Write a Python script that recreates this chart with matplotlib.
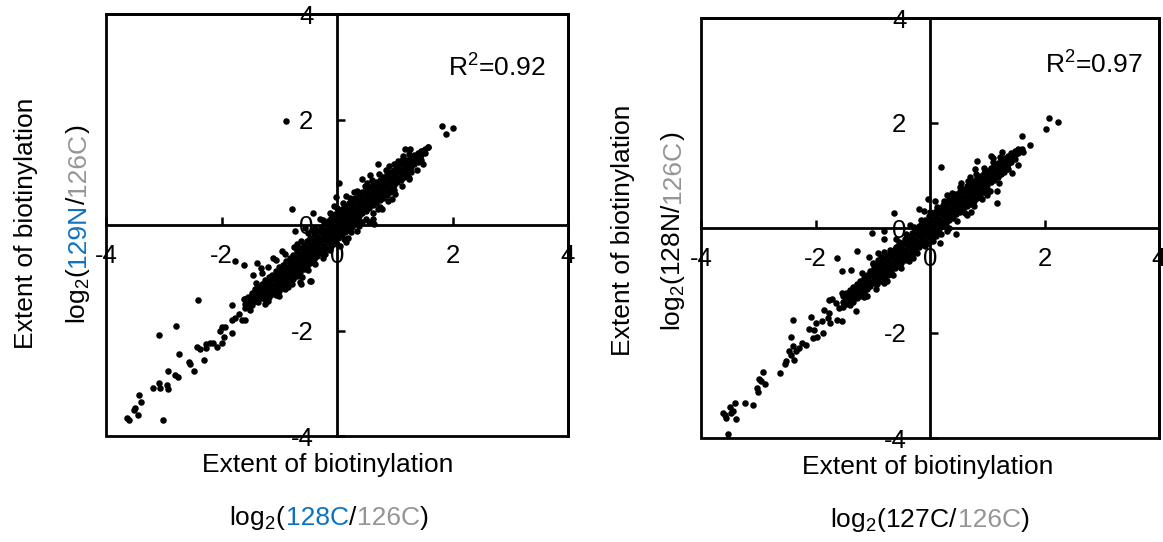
import numpy as np
import matplotlib
matplotlib.use('Agg')
import matplotlib.pyplot as plt
from matplotlib.patches import Rectangle

plt.rcParams['font.family'] = 'Liberation Sans'
plt.rcParams['mathtext.fontset'] = 'custom'
plt.rcParams['mathtext.rm'] = 'Liberation Sans'
plt.rcParams['mathtext.it'] = 'Liberation Sans:italic'
plt.rcParams['axes.unicode_minus'] = False

BLUE = '#0f72c1'
GRAY = '#959595'

ticks = [-4, -2, 0, 2, 4]

# left panel: 129N vs 128C  (dense band as columns x -> list of y)
left_core = [
    (-1.60, [-1.50, -1.41, -1.57]), (-1.54, [-1.36, -1.46, -1.54]),
    (-1.48, [-1.29, -1.39, -1.51, -1.34]), (-1.42, [-1.22, -1.32, -1.44, -1.27]),
    (-1.36, [-1.17, -1.27, -1.37, -1.46]), (-1.30, [-1.11, -1.20, -1.29, -1.39, -1.24]),
    (-1.24, [-1.05, -1.14, -1.24, -1.33, -1.41]), (-1.18, [-0.99, -1.09, -1.18, -1.27, -1.36]),
    (-1.12, [-0.94, -1.03, -1.13, -1.22, -1.30]), (-1.06, [-0.87, -0.97, -1.06, -1.15, -1.24]),
    (-1.00, [-0.80, -0.90, -0.99, -1.08, -1.17, -1.25]), (-0.94, [-0.75, -0.85, -0.94, -1.03, -1.12, -1.20]),
    (-0.88, [-0.69, -0.79, -0.88, -0.97, -1.06, -1.14]), (-0.82, [-0.62, -0.72, -0.82, -0.91, -1.00, -1.08]),
    (-0.76, [-0.57, -0.67, -0.76, -0.85, -0.94, -1.02]), (-0.70, [-0.50, -0.60, -0.69, -0.78, -0.87, -0.96]),
    (-0.64, [-0.44, -0.55, -0.64, -0.73, -0.82, -0.90]), (-0.58, [-0.38, -0.48, -0.57, -0.66, -0.75, -0.84]),
    (-0.52, [-0.31, -0.42, -0.51, -0.60, -0.69, -0.78]), (-0.46, [-0.25, -0.36, -0.45, -0.54, -0.63, -0.72]),
    (-0.40, [-0.18, -0.28, -0.38, -0.47, -0.56, -0.65]), (-0.34, [-0.12, -0.22, -0.32, -0.41, -0.50, -0.59]),
    (-0.28, [-0.05, -0.16, -0.26, -0.35, -0.45, -0.54]), (-0.22, [0.02, -0.09, -0.19, -0.29, -0.39, -0.48]),
    (-0.16, [0.08, -0.03, -0.13, -0.23, -0.33, -0.43]), (-0.10, [0.14, 0.03, -0.07, -0.17, -0.27, -0.37]),
    (-0.04, [0.20, 0.09, -0.01, -0.11, -0.21, -0.31]), (0.02, [0.26, 0.15, 0.05, -0.05, -0.15, -0.25]),
    (0.08, [0.31, 0.20, 0.10, 0.00, -0.10, -0.19]), (0.14, [0.36, 0.25, 0.15, 0.05, -0.05, -0.14]),
    (0.20, [0.41, 0.30, 0.20, 0.10, 0.00, -0.09]), (0.26, [0.46, 0.36, 0.26, 0.16, 0.06, -0.03]),
    (0.32, [0.51, 0.41, 0.31, 0.21, 0.11, 0.02]), (0.38, [0.56, 0.46, 0.36, 0.26, 0.17, 0.08]),
    (0.44, [0.62, 0.51, 0.41, 0.31, 0.22]), (0.50, [0.67, 0.56, 0.46, 0.36, 0.27]),
    (0.56, [0.72, 0.61, 0.51, 0.41, 0.32]), (0.62, [0.76, 0.66, 0.56, 0.46, 0.37]),
    (0.68, [0.81, 0.70, 0.61, 0.51, 0.42]), (0.74, [0.86, 0.75, 0.66, 0.56, 0.47]),
    (0.80, [0.91, 0.80, 0.71, 0.61, 0.52]), (0.86, [0.96, 0.85, 0.76, 0.66, 0.57]),
    (0.92, [1.00, 0.90, 0.81, 0.71, 0.62]), (0.98, [1.05, 0.95, 0.86, 0.76, 0.67]),
    (1.04, [1.10, 1.00, 0.90, 0.81]), (1.10, [1.15, 1.04, 0.95, 0.86]),
    (1.16, [1.19, 1.09, 1.00, 0.91]), (1.22, [1.24, 1.14, 1.05, 0.96]),
    (1.28, [1.28, 1.19, 1.10, 1.01]), (1.34, [1.33, 1.24, 1.15]),
    (1.40, [1.37, 1.28, 1.20]), (1.46, [1.41, 1.32, 1.24]),
    (1.52, [1.45, 1.36]), (1.58, [1.48]),
]
left_scatter = [
    (-1.77, -0.68), (-1.61, -0.75), (-1.39, -0.72), (-1.32, -0.81), (-1.30, -0.91),
    (-1.46, -0.94), (-2.40, -1.42), (-2.78, -1.91), (-3.09, -2.08), (-2.74, -2.45),
    (-2.48, -2.77), (-2.31, -2.55), (-2.92, -2.77), (-2.81, -2.85), (-2.76, -2.89),
    (-3.09, -3.00), (-3.18, -3.09), (-3.07, -3.09), (-2.95, -3.04), (-2.92, -3.11),
    (-3.42, -3.23), (-3.40, -3.36), (-3.52, -3.51), (-3.49, -3.47), (-3.45, -3.60),
    (-3.63, -3.66), (-3.61, -3.70), (-3.02, -3.70), (-2.57, -2.60), (-2.55, -2.64),
    (-2.43, -2.32), (-2.38, -2.36), (-2.26, -2.34), (-2.27, -2.25), (-2.20, -2.23),
    (-2.14, -2.23), (-2.08, -2.32), (-2.00, -2.23), (-1.96, -2.13), (-2.00, -1.94),
    (-1.94, -1.94), (-2.03, -2.00), (-1.81, -2.04), (-1.82, -1.81), (-1.77, -1.77),
    (-1.70, -1.68), (-1.65, -1.81), (-1.60, -1.81), (-1.81, -1.51), (-1.61, -1.40),
    (-1.56, -1.38), (-1.51, -1.43), (-1.51, -1.62), (-0.64, -1.09), (-0.45, -1.06),
    (-0.63, -1.11), (-0.47, -1.06), (-0.89, 1.98), (1.82, 1.87), (1.89, 1.72),
    (2.01, 1.83), (1.18, 1.45), (1.27, 1.45), (1.48, 1.40), (1.58, 1.47),
    (1.49, 1.15), (0.71, 1.15), (0.43, 0.87), (0.57, 0.94), (0.03, 0.79),
    (-0.02, 0.53), (-0.78, 0.30), (-0.42, 0.23), (0.63, 0.11), (0.64, 0.02),
    (0.71, 0.30), (0.78, 0.30), (0.19, -0.25), (-0.73, -0.12), (0.30, 0.62),
    (0.52, 0.80), (0.90, 1.12), (1.15, 1.30), (-0.30, 0.12), (-0.55, -0.05),
    (-0.95, -0.50), (-1.10, -0.62), (0.35, -0.12), (0.55, 0.05), (0.95, 0.50),
    (1.25, 0.88), (-0.20, -0.55), (-0.60, -0.98), (-1.00, -1.35), (0.05, -0.40),
    (-1.25, -1.50), (-1.40, -1.10), (1.05, 1.22), (1.38, 1.05), (0.15, 0.55),
]
# ragged edges of the dense band
left_edge = [
    (-1.20, -0.80), (-1.05, -0.66), (-0.90, -0.55), (-0.75, -0.42), (-0.62, -0.30),
    (-0.50, -0.15), (-0.38, -0.05), (-0.25, 0.10), (-0.12, 0.22), (0.00, 0.32),
    (0.10, 0.42), (0.22, 0.52), (0.35, 0.64), (0.48, 0.74), (0.60, 0.86),
    (0.72, 0.96), (0.85, 1.05), (0.98, 1.16), (1.12, 1.24), (1.25, 1.35),
    (-1.20, -1.45), (-1.05, -1.32), (-0.90, -1.22), (-0.78, -1.12), (-0.50, -0.86),
    (-0.38, -0.74), (-0.25, -0.62), (-0.12, -0.48), (0.00, -0.36), (0.12, -0.26),
    (0.25, -0.14), (0.38, -0.02), (0.50, 0.12), (0.62, 0.22), (0.75, 0.35),
    (0.88, 0.46), (1.00, 0.58), (1.12, 0.74), (1.25, 0.90), (-0.70, -0.36),
    (-0.44, -0.10), (-0.05, 0.36), (0.16, -0.32), (0.44, 0.05), (-0.85, -1.18),
]

# right panel: 128N vs 127C
right_core = [
    (-1.52, [-1.30, -1.40, -1.50]), (-1.46, [-1.24, -1.34, -1.44]),
    (-1.40, [-1.18, -1.28, -1.38, -1.46]), (-1.34, [-1.12, -1.22, -1.32, -1.40]),
    (-1.28, [-1.06, -1.16, -1.26, -1.34]), (-1.22, [-1.00, -1.10, -1.20, -1.29]),
    (-1.16, [-0.95, -1.04, -1.14, -1.23]), (-1.10, [-0.89, -0.98, -1.08, -1.17]),
    (-1.04, [-0.82, -0.92, -1.02, -1.11, -0.87]), (-0.98, [-0.76, -0.86, -0.96, -1.05]),
    (-0.92, [-0.70, -0.80, -0.90, -0.99, -1.06]), (-0.86, [-0.64, -0.74, -0.84, -0.93, -1.00]),
    (-0.80, [-0.58, -0.68, -0.78, -0.87, -0.94]), (-0.74, [-0.52, -0.62, -0.72, -0.81, -0.89]),
    (-0.68, [-0.46, -0.56, -0.66, -0.75, -0.83]), (-0.62, [-0.40, -0.50, -0.60, -0.69, -0.77]),
    (-0.56, [-0.34, -0.44, -0.54, -0.63, -0.72]), (-0.50, [-0.28, -0.38, -0.48, -0.57, -0.66]),
    (-0.44, [-0.21, -0.31, -0.41, -0.51, -0.60]), (-0.38, [-0.15, -0.25, -0.35, -0.45, -0.54]),
    (-0.32, [-0.09, -0.19, -0.29, -0.39, -0.48]), (-0.26, [-0.02, -0.12, -0.22, -0.32, -0.42]),
    (-0.20, [0.04, -0.06, -0.16, -0.26, -0.36]), (-0.14, [0.10, 0.00, -0.10, -0.20, -0.30]),
    (-0.08, [0.16, 0.06, -0.04, -0.14, -0.24]), (-0.02, [0.22, 0.12, 0.02, -0.08, -0.18, -0.28]),
    (0.04, [0.28, 0.18, 0.08, -0.02, -0.12, -0.20]), (0.10, [0.33, 0.23, 0.13, 0.03, -0.07, -0.15]),
    (0.16, [0.38, 0.28, 0.18, 0.08, -0.02]), (0.22, [0.44, 0.34, 0.24, 0.14, 0.04]),
    (0.28, [0.49, 0.39, 0.29, 0.19, 0.09]), (0.34, [0.55, 0.45, 0.35, 0.25, 0.15]),
    (0.40, [0.60, 0.50, 0.40, 0.30, 0.20]), (0.46, [0.65, 0.55, 0.45, 0.35, 0.26]),
    (0.52, [0.70, 0.60, 0.50, 0.40, 0.31]), (0.58, [0.75, 0.65, 0.55, 0.45, 0.36]),
    (0.64, [0.80, 0.70, 0.60, 0.50, 0.41]), (0.70, [0.85, 0.75, 0.65, 0.55, 0.46]),
    (0.76, [0.90, 0.80, 0.70, 0.60, 0.52]), (0.82, [0.95, 0.85, 0.75, 0.66, 0.58]),
    (0.88, [1.00, 0.90, 0.80, 0.71, 0.63]), (0.94, [1.04, 0.95, 0.86, 0.76, 0.68]),
    (1.00, [1.09, 1.00, 0.91, 0.82, 0.74]), (1.06, [1.14, 1.05, 0.96, 0.87]),
    (1.12, [1.19, 1.10, 1.01, 0.92]), (1.18, [1.24, 1.15, 1.06, 0.97]),
    (1.24, [1.29, 1.20, 1.11, 1.02]), (1.30, [1.34, 1.25, 1.16, 1.07]),
    (1.36, [1.38, 1.30, 1.21, 1.12]), (1.42, [1.43, 1.35, 1.26]),
    (1.48, [1.47, 1.39, 1.31]), (1.54, [1.51, 1.43]), (1.60, [1.50]),
]
right_scatter = [
    (-1.02, -0.09), (-0.80, -0.06), (-0.80, -0.20), (-1.62, -0.58), (-1.28, -0.43),
    (-1.53, -0.81), (-1.38, -0.80), (-1.07, -0.55), (-0.99, -0.67), (-0.90, -0.48),
    (-0.81, -0.45), (-1.30, -1.59), (-1.53, -1.23), (-1.42, -1.24), (-1.76, -1.37),
    (-1.72, -1.36), (-1.65, -1.43), (-1.59, -1.53), (-1.62, -1.75), (-1.53, -1.78),
    (-1.85, -1.56), (-1.76, -1.62), (-1.79, -1.72), (-1.88, -1.78), (-1.74, -1.81),
    (-2.07, -1.70), (-2.00, -1.81), (-2.12, -1.93), (-2.02, -1.94), (-1.87, -2.00),
    (-1.97, -2.08), (-2.05, -2.10), (-2.40, -1.75), (-2.43, -2.08), (-2.40, -2.24),
    (-2.47, -2.35), (-2.43, -2.41), (-2.34, -2.35), (-2.28, -2.29), (-2.23, -2.19),
    (-2.17, -2.22), (-2.37, -2.52), (-2.52, -2.54), (-2.54, -2.59), (-2.62, -2.76),
    (-2.91, -2.75), (-2.99, -2.88), (-2.95, -2.92), (-2.89, -2.98), (-3.03, -3.05),
    (-3.00, -3.13), (-3.24, -3.33), (-3.10, -3.37), (-3.41, -3.33), (-3.49, -3.40),
    (-3.44, -3.49), (-3.61, -3.52), (-3.56, -3.62), (-3.38, -3.64), (-3.47, -3.52),
    (-3.58, -3.56), (-3.52, -3.92), (-1.25, -1.12), (2.07, 2.09), (2.02, 1.88),
    (2.23, 2.02), (1.61, 1.75), (1.75, 1.58), (1.63, 1.45), (1.53, 1.20),
    (1.44, 1.05), (1.07, 1.37), (1.10, 1.34), (0.82, 1.28), (0.79, 1.12),
    (0.19, 1.17), (1.17, 0.71), (1.17, 0.48), (0.72, 0.31), (-0.04, 0.55),
    (0.09, 0.51), (-0.19, 0.37), (-0.63, 0.28), (0.46, -0.12), (0.30, 0.62),
    (0.55, 0.85), (1.25, 1.45), (-0.35, 0.05), (-0.60, -0.20), (0.30, -0.05),
    (0.65, 0.25), (1.00, 0.62), (-0.30, -0.58), (-0.75, -1.00), (-1.15, -1.32),
]
right_edge = [
    (-1.18, -0.85), (-1.00, -0.68), (-0.85, -0.55), (-0.70, -0.42), (-0.55, -0.26),
    (-0.42, -0.12), (-0.28, 0.02), (-0.15, 0.15), (0.00, 0.30), (0.12, 0.40),
    (0.25, 0.52), (0.38, 0.66), (0.52, 0.78), (0.66, 0.90), (0.80, 1.02),
    (0.95, 1.14), (1.10, 1.26), (1.22, 1.36), (-1.10, -1.30), (-0.95, -1.16),
    (-0.80, -1.04), (-0.65, -0.90), (-0.50, -0.76), (-0.36, -0.62), (-0.22, -0.48),
    (-0.08, -0.34), (0.06, -0.24), (0.20, -0.12), (0.34, 0.00), (0.48, 0.14),
    (0.62, 0.28), (0.76, 0.42), (0.90, 0.56), (1.05, 0.70), (1.20, 0.86),
    (-0.10, 0.32), (0.18, -0.28), (-0.60, -0.36), (0.70, 0.98), (-0.90, -0.60),
]


def expand(core, *extra):
    xs = [x for x, ys in core for _ in ys]
    ys = [y for _, yv in core for y in yv]
    for group in extra:
        xs += [p[0] for p in group]
        ys += [p[1] for p in group]
    return np.array(xs), np.array(ys)


W, H = 1163, 542
fig = plt.figure(figsize=(W / 100, H / 100), dpi=100)
renderer = fig.canvas.get_renderer()


def px(x, y):
    return x / W, 1 - y / H


def parts_text(xc, yb, parts, rotation=0, size=19):
    # pieces of text in different colours, centred on xc (or yb when rotated)
    widths = []
    for s, c in parts:
        t = fig.text(0, 0, s, fontsize=size)
        widths.append(t.get_window_extent(renderer).width)
        t.remove()
    pos = -sum(widths) / 2
    for (s, c), w in zip(parts, widths):
        if rotation:
            fx, fy = px(xc, yb - pos)
        else:
            fx, fy = px(xc + pos, yb)
        fig.text(fx, fy, s, color=c, fontsize=size, rotation=rotation,
                 rotation_mode='anchor', ha='left', va='baseline')
        pos += w


def panel(box, pts, r2, r2_pos):
    x0, y0, x1, y1 = box
    ax = fig.add_axes([x0 / W, 1 - y1 / H, (x1 - x0) / W, (y1 - y0) / H])
    ax.set_xlim(-4, 4)
    ax.set_ylim(-4, 4)
    ax.spines['left'].set_position('zero')
    ax.spines['bottom'].set_position('zero')
    for s in ax.spines.values():
        s.set_linewidth(2)
    ax.add_patch(Rectangle((0, 0), 1, 1, transform=ax.transAxes, fill=False,
                           lw=2, ec='black', clip_on=False))
    ax.set_xticks(ticks)
    ax.set_yticks(ticks)
    ax.tick_params(direction='in', length=6, width=1.8, labelsize=18.5)
    ax.tick_params(axis='x', pad=14)
    ax.tick_params(axis='y', pad=17)
    x, y = pts
    ax.scatter(x, y, s=22, c='black', linewidths=0, zorder=3, clip_on=False)
    fx, fy = px(*r2_pos)
    fig.text(fx, fy, r2, fontsize=19, ha='left', va='baseline')
    return ax


panel((106, 14, 568, 436), expand(left_core, left_scatter, left_edge),
      'R$^2$=0.92', (448, 77))
panel((701, 18, 1159, 438), expand(right_core, right_scatter, right_edge),
      'R$^2$=0.97', (1045, 74))

ext = [('Extent of biotinylation', 'black')]
parts_text(328, 472, ext)
parts_text(928, 474, ext)
parts_text(329, 525, [('log$_2$(', 'black'), ('128C', BLUE), ('/', 'black'),
                      ('126C', GRAY), (')', 'black')])
parts_text(930, 527, [('log$_2$(127C/', 'black'), ('126C', GRAY), (')', 'black')])

parts_text(33, 223, ext, rotation=90)
parts_text(630, 230, ext, rotation=90)
parts_text(85, 224, [('log$_2$(', 'black'), ('129N', BLUE), ('/', 'black'),
                     ('126C', GRAY), (')', 'black')], rotation=90)
parts_text(680, 231, [('log$_2$(128N/', 'black'), ('126C', GRAY), (')', 'black')],
           rotation=90)

fig.savefig('out.png', dpi=100)
